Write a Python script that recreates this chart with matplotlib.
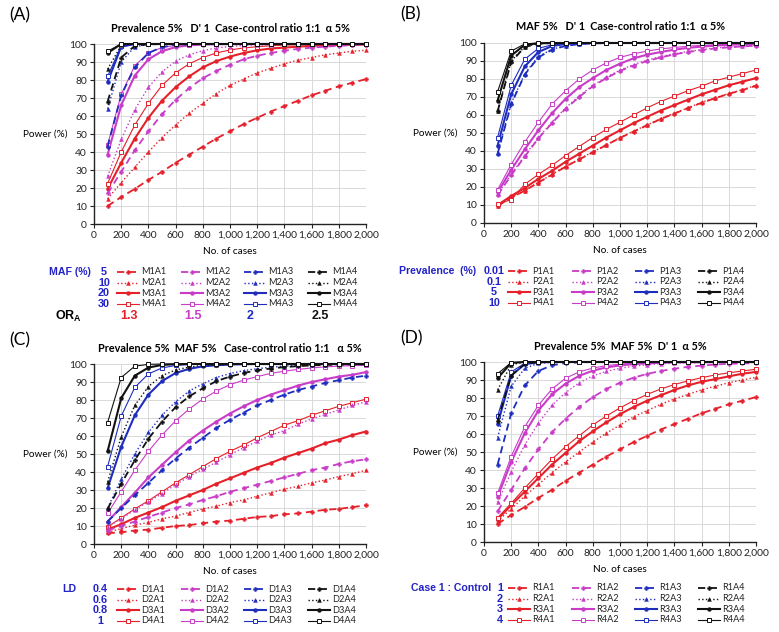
import matplotlib
matplotlib.use("Agg")
import matplotlib.pyplot as plt
from matplotlib.ticker import FuncFormatter, MultipleLocator

plt.rcParams['font.family'] = ['Lato', 'DejaVu Sans']

# number of cases (x axis)
cases = [100, 200, 300, 400, 500, 600, 700, 800, 900, 1000,
         1100, 1200, 1300, 1400, 1500, 1600, 1700, 1800, 1900, 2000]

# ---- (A) MAF varied; rows = MAF 5/10/20/30, one list per OR ----
A_or13 = [
    [10, 15, 19.5, 24.5, 29, 34, 38.5, 43, 47.5, 51.5, 55.5, 59, 62.5, 65.5, 68.5, 71.5, 74, 76.5, 78.5, 80.5],
    [14, 23, 31.5, 40, 48, 55, 61.5, 67, 72.5, 77, 80.5, 84, 86.5, 89, 91, 92.5, 94, 95, 96, 96.5],
    [19.5, 34, 47.5, 59, 68.5, 76, 82, 87, 90.5, 93, 95, 96.5, 97.5, 98, 98.5, 99, 99.3, 99.5, 99.6, 99.7],
    [22.5, 40, 55, 67, 77, 84, 89, 92.5, 95, 96.7, 97.8, 98.5, 99, 99.4, 99.6, 99.7, 99.8, 99.9, 99.9, 99.9],
]
A_or15 = [
    [17, 29, 41, 51.5, 61, 69, 75.5, 81, 85, 88.5, 91.5, 93.5, 95, 96.3, 97.3, 98, 98.5, 99, 99.3, 99.5],
    [26.5, 47, 63.5, 76, 84.5, 90.5, 94, 96.3, 97.8, 98.6, 99.2, 99.5, 99.7, 99.8, 99.9, 99.9, 100, 100, 100, 100],
    [38.5, 66, 82.5, 91.5, 96, 98.3, 99.3, 99.7, 99.9, 100, 100, 100, 100, 100, 100, 100, 100, 100, 100, 100],
    [44, 72, 88, 95, 98, 99.3, 99.7, 99.9, 100, 100, 100, 100, 100, 100, 100, 100, 100, 100, 100, 100],
]
A_or20 = [
    [43, 71.5, 87, 95, 98.3, 99.5, 99.8, 100, 100, 100, 100, 100, 100, 100, 100, 100, 100, 100, 100, 100],
    [64, 90, 98.5, 99.8, 100, 100, 100, 100, 100, 100, 100, 100, 100, 100, 100, 100, 100, 100, 100, 100],
    [79, 98.5, 100, 100, 100, 100, 100, 100, 100, 100, 100, 100, 100, 100, 100, 100, 100, 100, 100, 100],
    [82, 99, 100, 100, 100, 100, 100, 100, 100, 100, 100, 100, 100, 100, 100, 100, 100, 100, 100, 100],
]
A_or25 = [
    [68, 92.5, 99, 99.8, 100, 100, 100, 100, 100, 100, 100, 100, 100, 100, 100, 100, 100, 100, 100, 100],
    [86, 99.3, 100, 100, 100, 100, 100, 100, 100, 100, 100, 100, 100, 100, 100, 100, 100, 100, 100, 100],
    [95, 100, 100, 100, 100, 100, 100, 100, 100, 100, 100, 100, 100, 100, 100, 100, 100, 100, 100, 100],
    [96, 100, 100, 100, 100, 100, 100, 100, 100, 100, 100, 100, 100, 100, 100, 100, 100, 100, 100, 100],
]

# ---- (B) prevalence varied; rows = 0.01/0.1/5/10 % ----
B_or13 = [
    [9.5, 14, 18, 22.5, 26.8, 31.3, 35.3, 39.3, 43.3, 47.3, 50.8, 54.3, 57.8, 60.8, 63.8, 66.8, 69.3, 71.8, 73.8, 76.3],
    [9.5, 14, 18, 22.5, 27, 31.5, 35.5, 39.5, 43.5, 47.5, 51, 54.5, 58, 61, 64, 67, 69.5, 72, 74, 76.5],
    [10, 15, 19.5, 24.5, 29, 34, 38.5, 43, 47.5, 51.5, 55.5, 59, 62.5, 65.5, 68.5, 71.5, 74, 76.5, 78.5, 80.5],
    [10.5, 13, 21.5, 27, 32, 37.5, 42.5, 47.5, 52, 56, 60, 64, 67.5, 70.5, 73.5, 76, 79, 81, 83, 85],
]
B_or15 = [
    [15.5, 26.5, 37, 47, 55.5, 63.5, 70, 76, 80.5, 84.5, 87.5, 90, 92, 93.7, 95, 96, 97, 97.6, 98.1, 98.5],
    [16, 27, 37.5, 47.5, 56, 64, 70.5, 76.5, 81, 85, 88, 90.5, 92.5, 94, 95.3, 96.3, 97.2, 97.8, 98.3, 98.7],
    [17, 29.5, 41, 51.5, 61, 69, 75.5, 80.5, 85, 88.5, 91.5, 93.5, 95, 96.3, 97.3, 98, 98.5, 99, 99.3, 99.5],
    [18.5, 32.5, 45, 56, 66, 73.5, 80, 85, 89, 92, 94, 95.5, 96.7, 97.5, 98.2, 98.7, 99, 99.3, 99.5, 99.6],
]
B_or20 = [
    [38.5, 66, 82.5, 92, 96.3, 98.4, 99.4, 99.8, 99.9, 100, 100, 100, 100, 100, 100, 100, 100, 100, 100, 100],
    [39, 66.5, 83, 92.5, 96.5, 98.5, 99.5, 99.8, 100, 100, 100, 100, 100, 100, 100, 100, 100, 100, 100, 100],
    [43, 71.5, 87, 95, 98.3, 99.5, 99.8, 100, 100, 100, 100, 100, 100, 100, 100, 100, 100, 100, 100, 100],
    [47.5, 76.5, 91, 97, 99, 99.7, 99.9, 100, 100, 100, 100, 100, 100, 100, 100, 100, 100, 100, 100, 100],
]
B_or25 = [
    [62, 89.5, 97.8, 99.6, 100, 100, 100, 100, 100, 100, 100, 100, 100, 100, 100, 100, 100, 100, 100, 100],
    [62.5, 90, 98, 99.7, 100, 100, 100, 100, 100, 100, 100, 100, 100, 100, 100, 100, 100, 100, 100, 100],
    [68, 93, 99, 99.8, 100, 100, 100, 100, 100, 100, 100, 100, 100, 100, 100, 100, 100, 100, 100, 100],
    [73, 95.5, 99.5, 100, 100, 100, 100, 100, 100, 100, 100, 100, 100, 100, 100, 100, 100, 100, 100, 100],
]

# ---- (C) LD varied; rows = 0.4/0.6/0.8/1 ----
C_or13 = [
    [6, 6.5, 7.5, 8, 9, 10, 10.5, 11.5, 12.5, 13, 14, 15, 15.5, 16.5, 17, 18, 19, 19.5, 20.5, 21.5],
    [6.5, 8.5, 10.5, 12, 14, 15.5, 17.5, 19.5, 21, 23, 24.5, 26.5, 28.5, 30.5, 32, 34, 35.5, 37.5, 39, 41],
    [8, 11, 14.5, 17.5, 20.5, 24, 27, 30, 33.5, 36.5, 39.5, 42.5, 45, 48, 50.5, 53, 56, 58, 60.5, 62.5],
    [9.5, 14.5, 19.5, 24, 29, 34, 38.5, 43, 47.5, 51.5, 55, 59, 62.5, 66, 68.5, 71.5, 74, 76.5, 78.5, 80.5],
]
C_or15 = [
    [7.5, 10, 12.5, 15, 17.5, 20, 22, 24.5, 26.5, 29, 31, 33, 35, 37, 39, 41, 42.5, 44.5, 46, 47],
    [9.5, 14, 19, 23.5, 28, 33, 37.5, 41.5, 45.5, 49.5, 53.5, 57, 60.5, 63, 66.5, 69.5, 72, 74.5, 77, 79],
    [12.5, 20.5, 28.5, 37, 44, 51, 57.5, 63, 68, 72.5, 76.5, 80, 83, 85.5, 88, 90, 91.5, 93, 94, 95.5],
    [17, 29, 41, 51.5, 60.5, 68.5, 75, 80.5, 85, 88.5, 91, 93, 94.8, 96, 97, 97.8, 98.4, 98.8, 99.1, 99.3],
]
C_or20 = [
    [12.5, 20, 27, 34, 41, 47.5, 53.5, 59, 64.5, 69, 73, 77, 80, 83, 85.5, 87.5, 89.5, 91, 92.5, 93.5],
    [20, 36, 50, 62, 71.5, 79, 85, 89, 92.5, 94.7, 96.3, 97.4, 98.2, 98.8, 99.2, 99.5, 99.7, 99.8, 99.9, 99.9],
    [31, 54, 71.5, 83, 90.5, 95, 97.3, 98.7, 99.3, 99.7, 99.9, 100, 100, 100, 100, 100, 100, 100, 100, 100],
    [43, 71, 87, 94.5, 97.8, 99.2, 99.7, 99.9, 100, 100, 100, 100, 100, 100, 100, 100, 100, 100, 100, 100],
]
C_or25 = [
    [19.5, 33.5, 46.5, 58.5, 68, 76, 82, 86.5, 90.5, 93, 95, 96.5, 97.5, 98.3, 98.8, 99.2, 99.5, 99.6, 99.8, 99.8],
    [34.5, 59.5, 77, 87.5, 93.5, 96.7, 98.3, 99.2, 99.6, 99.8, 99.9, 100, 100, 100, 100, 100, 100, 100, 100, 100],
    [51.5, 81, 93.5, 98, 99.5, 99.9, 100, 100, 100, 100, 100, 100, 100, 100, 100, 100, 100, 100, 100, 100],
    [67.5, 92.5, 98.8, 99.8, 100, 100, 100, 100, 100, 100, 100, 100, 100, 100, 100, 100, 100, 100, 100, 100],
]

# ---- (D) case:control ratio varied; rows = 1:1 / 1:2 / 1:3 / 1:4 ----
D_or13 = [
    [10, 15, 19.5, 24.5, 29, 34, 38.5, 43, 47.5, 51.5, 55.5, 59, 62.5, 65.5, 68.5, 71.5, 74, 76.5, 78.5, 80.5],
    [11.5, 18.5, 25.5, 32, 38.5, 44.5, 50, 55.5, 60.5, 65, 69.5, 73, 76.5, 79.5, 82, 84.5, 86.5, 88.5, 90, 91.5],
    [12.5, 20.5, 28, 35.5, 43, 49.5, 56, 61.5, 66.5, 71, 75, 78.5, 81.5, 84.5, 87, 89, 90.5, 92, 93.5, 94.5],
    [13.5, 21.5, 30, 38, 46, 53, 59, 65, 70, 74.5, 78.5, 82, 85, 87.5, 89.5, 91.3, 92.8, 94, 95, 96],
]
D_or15 = [
    [17, 29, 41, 51.5, 61, 68.5, 75, 80.5, 85, 88.5, 91.3, 93.4, 95, 96.3, 97.3, 98, 98.6, 99, 99.2, 99.4],
    [22, 39, 54, 66, 76, 83, 88.5, 92.3, 94.8, 96.5, 97.7, 98.5, 99, 99.4, 99.6, 99.7, 99.8, 99.9, 99.9, 100],
    [25, 44.5, 60.5, 73, 82, 88, 92.3, 95.2, 97, 98.1, 98.8, 99.3, 99.6, 99.8, 99.9, 99.9, 100, 100, 100, 100],
    [27, 47.5, 64, 76, 85, 91, 94.5, 96.6, 98, 98.8, 99.3, 99.6, 99.8, 99.9, 100, 100, 100, 100, 100, 100],
]
D_or20 = [
    [43, 71.5, 87, 95, 98.2, 99.4, 99.8, 100, 100, 100, 100, 100, 100, 100, 100, 100, 100, 100, 100, 100],
    [58, 86.5, 96.5, 99.3, 99.8, 100, 100, 100, 100, 100, 100, 100, 100, 100, 100, 100, 100, 100, 100, 100],
    [65.5, 92.5, 98.8, 99.8, 100, 100, 100, 100, 100, 100, 100, 100, 100, 100, 100, 100, 100, 100, 100, 100],
    [70, 94.5, 99.3, 100, 100, 100, 100, 100, 100, 100, 100, 100, 100, 100, 100, 100, 100, 100, 100, 100],
]
D_or25 = [
    [67.5, 92.5, 99, 100, 100, 100, 100, 100, 100, 100, 100, 100, 100, 100, 100, 100, 100, 100, 100, 100],
    [84.5, 98.5, 100, 100, 100, 100, 100, 100, 100, 100, 100, 100, 100, 100, 100, 100, 100, 100, 100, 100],
    [91, 99.5, 100, 100, 100, 100, 100, 100, 100, 100, 100, 100, 100, 100, 100, 100, 100, 100, 100, 100],
    [93.5, 99.7, 100, 100, 100, 100, 100, 100, 100, 100, 100, 100, 100, 100, 100, 100, 100, 100, 100, 100],
]

colors = ['#E5202A', '#C83CC8', '#1E2DBE', '#111111']
blue_txt = '#2323C8'
# one style per row (1: dashed/plus, 2: dotted/triangle, 3: thick/circle, 4: thin/open square)
styles = [
    dict(ls=(0, (4, 2.5)), lw=1.3, marker='P', ms=3.0, mew=0.3),
    dict(ls=':', lw=1.0, marker='^', ms=2.8, mew=0.3),
    dict(ls='-', lw=1.5, marker='o', ms=2.8, mew=0.3),
    dict(ls='-', lw=0.8, marker='s', ms=3.2, mew=0.7, mfc='white'),
]

W, H = 779, 632
fig = plt.figure(figsize=(W / 100, H / 100), dpi=100)


def make_ax(left, top, right, bottom):
    return fig.add_axes([left / W, 1 - bottom / H, (right - left) / W, (bottom - top) / H])


def draw_panel(ax, groups, title):
    for color, group in zip(colors, groups):
        for st, vals in zip(styles, group):
            ax.plot(cases, vals, color=color, mec=color, **st, clip_on=False)
    ax.set_xlim(0, 2000)
    ax.set_ylim(0, 100)
    ax.xaxis.set_major_locator(MultipleLocator(200))
    ax.yaxis.set_major_locator(MultipleLocator(10))
    ax.xaxis.set_major_formatter(FuncFormatter(lambda v, p: f'{int(v):,}'))
    ax.grid(True, color='#D9D9D9', lw=0.7)
    ax.set_axisbelow(True)
    for s in ['top', 'right']:
        ax.spines[s].set_visible(False)
    for s in ['left', 'bottom']:
        ax.spines[s].set_color('#222222')
        ax.spines[s].set_linewidth(1.0)
    ax.tick_params(labelsize=7.4, length=3, width=0.8, pad=2, colors='#222222')
    ax.set_xlabel('No. of cases', fontsize=7.2, labelpad=5)
    ax.text(-0.18, 0.5, 'Power (%)', transform=ax.transAxes, fontsize=7.2,
            ha='center', va='center')
    ax.set_title(title, fontsize=7.8, fontweight='bold', pad=9)


axA = make_ax(94, 44, 366, 224)
axB = make_ax(484, 43, 756, 223)
axC = make_ax(94, 364, 366, 544)
axD = make_ax(484, 362, 756, 542)

draw_panel(axA, [A_or13, A_or15, A_or20, A_or25], "Prevalence 5%   D' 1  Case-control ratio 1:1  \u03b1 5%")
draw_panel(axB, [B_or13, B_or15, B_or20, B_or25], "MAF 5%   D' 1  Case-control ratio 1:1  \u03b1 5%")
draw_panel(axC, [C_or13, C_or15, C_or20, C_or25], "Prevalence 5%  MAF 5%   Case-control ratio 1:1   \u03b1 5%")
draw_panel(axD, [D_or13, D_or15, D_or20, D_or25], "Prevalence 5%  MAF 5%  D' 1  \u03b1 5%")

# overlay in pixel coordinates for panel letters and the legend blocks
ov = fig.add_axes([0, 0, 1, 1], zorder=-1)
ov.set_xlim(0, W)
ov.set_ylim(H, 0)
ov.axis('off')

for letter, x, y in [('(A)', 9, 15), ('(B)', 400, 14), ('(C)', 9, 340), ('(D)', 400, 338)]:
    ov.text(x, y, letter, fontsize=12.5, ha='left', va='center')


def legend_block(head, head_right, values, val_x, prefix, y0, col_x):
    step = 10.6
    ov.text(head_right, y0, head, fontsize=7.6, fontweight='bold', color=blue_txt,
            family=['Liberation Sans'], ha='right', va='center')
    for i, val in enumerate(values):
        y = y0 + i * step
        ov.text(val_x, y, val, fontsize=7.8, fontweight='bold', color=blue_txt,
                family=['Liberation Sans'], ha='center', va='center')
        for j, xc in enumerate(col_x):
            st = dict(styles[i])
            ov.plot([xc, xc + 11, xc + 22], [y, y, y], color=colors[j], mec=colors[j],
                    markevery=[1], **st)
            ov.text(xc + 24, y, f'{prefix}{i + 1}A{j + 1}', fontsize=6.6, ha='left', va='center',
                    color='#222222')


left_cols = [117, 181, 244, 308]
right_cols = [508, 572, 635, 698]
legend_block('MAF (%)', 91, ['5', '10', '20', '30'], 104, 'M', 272, left_cols)
legend_block('Prevalence  (%)', 476, ['0.01', '0.1', '5', '10'], 494, 'P', 271, right_cols)
legend_block('LD', 76, ['0.4', '0.6', '0.8', '1'], 100, 'D', 589, left_cols)
legend_block('Case 1 : Control', 491, ['1', '2', '3', '4'], 500, 'R', 588, right_cols)

# odds ratio row under panel A
ov.text(55, 316, r'OR$_\mathregular{A}$', fontsize=9, fontweight='bold', family=['Liberation Sans'],
        ha='left', va='center')
for j, (lab, xc) in enumerate(zip(['1.3', '1.5', '2', '2.5'], [129, 193, 250, 320])):
    ov.text(xc, 316, lab, fontsize=9, fontweight='bold', color=colors[j],
            family=['Liberation Sans'], ha='center', va='center')

fig.savefig('out.png', dpi=100)
